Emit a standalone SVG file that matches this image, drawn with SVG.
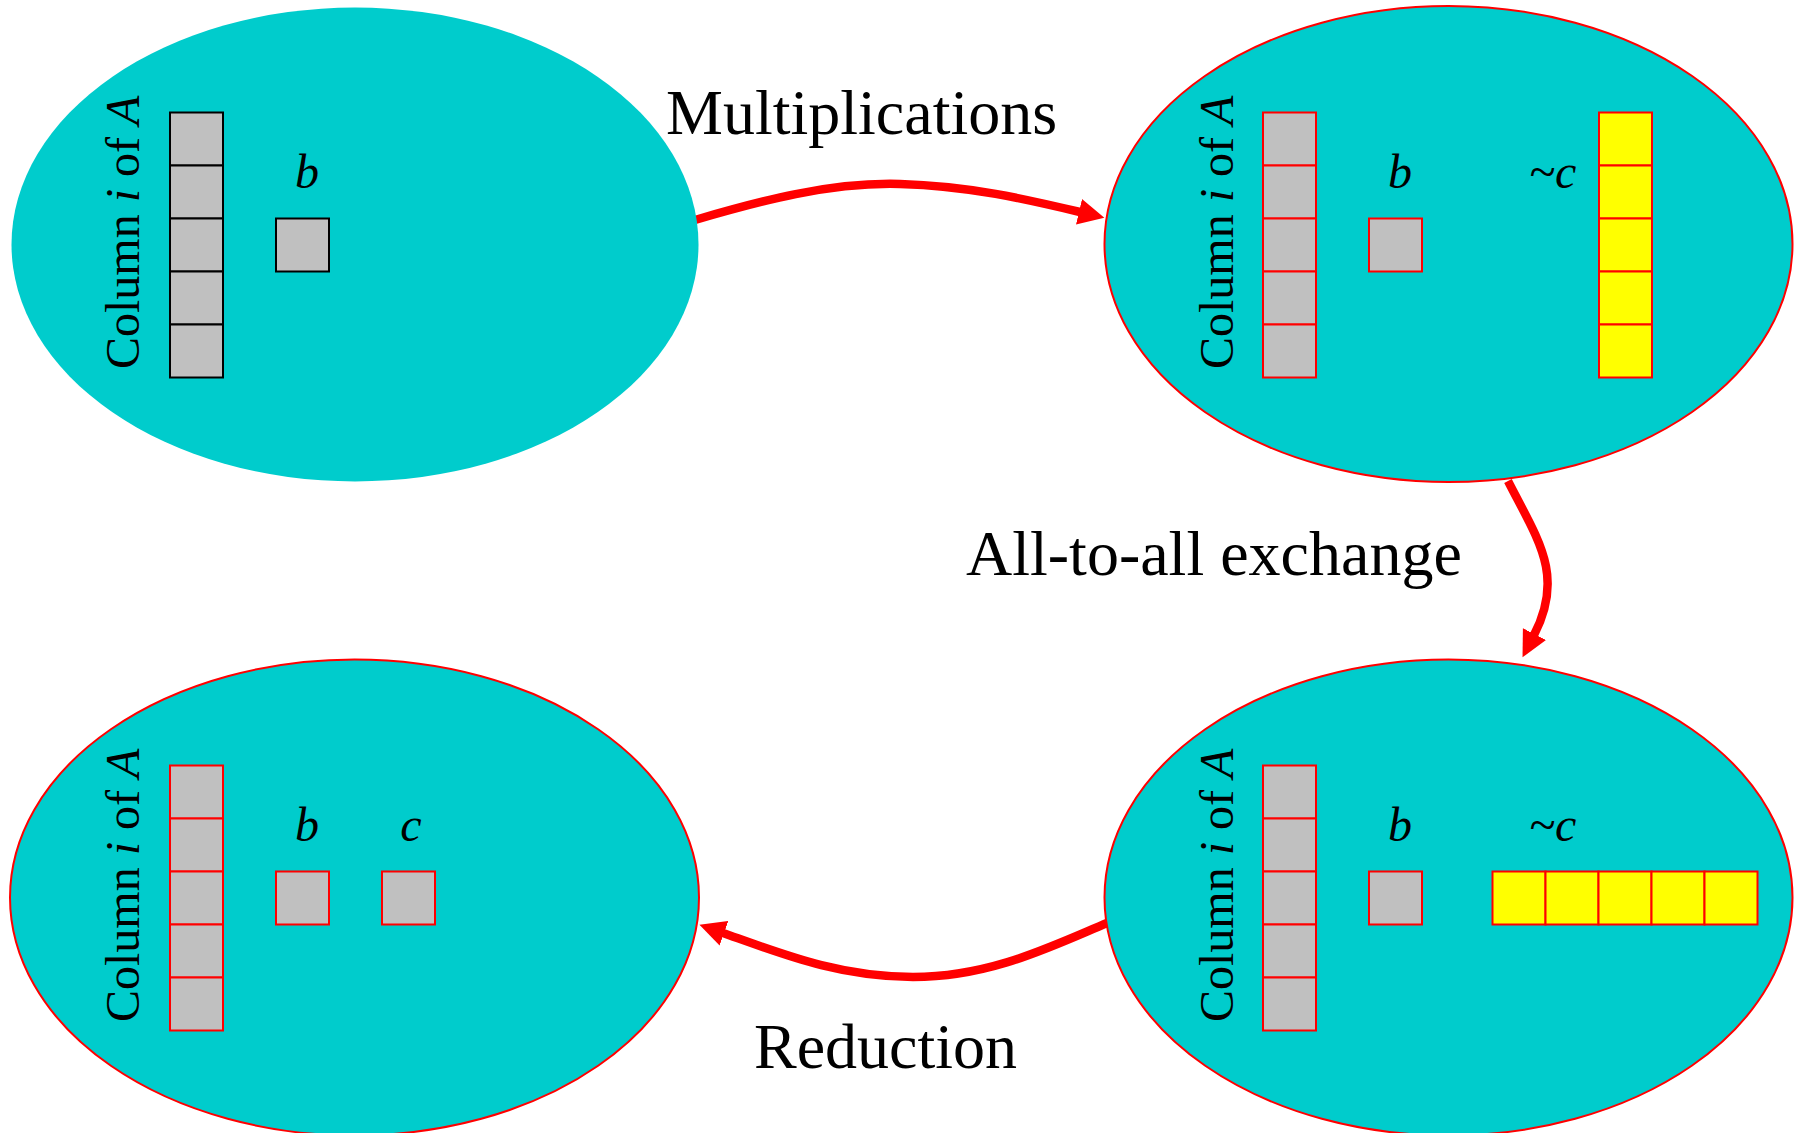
<svg xmlns="http://www.w3.org/2000/svg" width="1803" height="1133" viewBox="0 0 1803 1133">
  <style>
    .proc { fill: #00CCCC; }
    .proc.outlined { stroke: #FF0000; stroke-width: 2; }
    .cell { fill: #C0C0C0; stroke: #FF0000; stroke-width: 2; }
    .cell.dark { stroke: #000000; }
    .cell.hot { fill: #FFFF00; }
    .lbl { font-family: "Liberation Serif", "Times New Roman", serif; fill: #000000; }
    .side { font-size: 48px; }
    .var { font-size: 48px; font-style: italic; }
    .step { font-size: 64px; }
    .flow { fill: none; stroke: #FF0000; stroke-width: 8.5; }
  </style>
  <defs>
    <marker id="head" markerUnits="userSpaceOnUse" markerWidth="28" markerHeight="27" refX="1" refY="13" orient="auto" viewBox="0 0 28 26">
      <path d="M0,0 L26,13 L0,26 Z" fill="#FF0000"/>
    </marker>
  </defs>

  <!-- connectors between the processor states -->
  <g id="connectors">
    <path class="flow" d="M695,220 C760,201 830,182 900,184 C970,186 1025,199 1080,212" marker-end="url(#head)"/>
    <path class="flow" d="M1508,481 C1538,540 1565,575 1534,635" marker-end="url(#head)"/>
    <path class="flow" d="M1107,923 C1050,947 990,977 913,977 C840,977 785,955 723,933" marker-end="url(#head)"/>
    <text class="lbl step" x="666" y="134">Multiplications</text>
    <text class="lbl step" x="966" y="575">All-to-all exchange</text>
    <text class="lbl step" x="754" y="1068">Reduction</text>
  </g>

  <!-- initial state: column of A and b -->
  <g id="node-initial">
    <ellipse class="proc" cx="355" cy="244.5" rx="343.5" ry="237"/>
    <text class="lbl side" transform="translate(139,369) rotate(-90)">Column <tspan font-style="italic">i</tspan> of <tspan font-style="italic">A</tspan></text>
    <rect class="cell dark" x="170" y="112.5" width="53" height="53"/>
    <rect class="cell dark" x="170" y="165.5" width="53" height="53"/>
    <rect class="cell dark" x="170" y="218.5" width="53" height="53"/>
    <rect class="cell dark" x="170" y="271.5" width="53" height="53"/>
    <rect class="cell dark" x="170" y="324.5" width="53" height="53"/>
    <text class="lbl var" x="307" y="188" text-anchor="middle">b</text>
    <rect class="cell dark" x="276" y="218.5" width="53" height="53"/>
  </g>

  <!-- after multiplications: partial column ~c -->
  <g id="node-multiplied">
    <ellipse class="proc outlined" cx="1448.5" cy="244" rx="344" ry="238"/>
    <text class="lbl side" transform="translate(1233,369) rotate(-90)">Column <tspan font-style="italic">i</tspan> of <tspan font-style="italic">A</tspan></text>
    <rect class="cell" x="1263" y="112.5" width="53" height="53"/>
    <rect class="cell" x="1263" y="165.5" width="53" height="53"/>
    <rect class="cell" x="1263" y="218.5" width="53" height="53"/>
    <rect class="cell" x="1263" y="271.5" width="53" height="53"/>
    <rect class="cell" x="1263" y="324.5" width="53" height="53"/>
    <text class="lbl var" x="1400" y="188" text-anchor="middle">b</text>
    <rect class="cell" x="1369" y="218.5" width="53" height="53"/>
    <text class="lbl var" x="1529" y="188">~c</text>
    <rect class="cell hot" x="1599" y="112.5" width="53" height="53"/>
    <rect class="cell hot" x="1599" y="165.5" width="53" height="53"/>
    <rect class="cell hot" x="1599" y="218.5" width="53" height="53"/>
    <rect class="cell hot" x="1599" y="271.5" width="53" height="53"/>
    <rect class="cell hot" x="1599" y="324.5" width="53" height="53"/>
  </g>

  <!-- after all-to-all exchange: ~c laid out as a row -->
  <g id="node-exchanged">
    <ellipse class="proc outlined" cx="1448.5" cy="897.5" rx="344" ry="238"/>
    <text class="lbl side" transform="translate(1233,1022) rotate(-90)">Column <tspan font-style="italic">i</tspan> of <tspan font-style="italic">A</tspan></text>
    <rect class="cell" x="1263" y="765.5" width="53" height="53"/>
    <rect class="cell" x="1263" y="818.5" width="53" height="53"/>
    <rect class="cell" x="1263" y="871.5" width="53" height="53"/>
    <rect class="cell" x="1263" y="924.5" width="53" height="53"/>
    <rect class="cell" x="1263" y="977.5" width="53" height="53"/>
    <text class="lbl var" x="1400" y="841" text-anchor="middle">b</text>
    <rect class="cell" x="1369" y="871.5" width="53" height="53"/>
    <text class="lbl var" x="1529" y="841">~c</text>
    <rect class="cell hot" x="1492.5" y="871.5" width="53" height="53"/>
    <rect class="cell hot" x="1545.5" y="871.5" width="53" height="53"/>
    <rect class="cell hot" x="1598.5" y="871.5" width="53" height="53"/>
    <rect class="cell hot" x="1651.5" y="871.5" width="53" height="53"/>
    <rect class="cell hot" x="1704.5" y="871.5" width="53" height="53"/>
  </g>

  <!-- after reduction: final element c -->
  <g id="node-reduced">
    <ellipse class="proc outlined" cx="354.5" cy="897.5" rx="344.5" ry="238"/>
    <text class="lbl side" transform="translate(139,1022) rotate(-90)">Column <tspan font-style="italic">i</tspan> of <tspan font-style="italic">A</tspan></text>
    <rect class="cell" x="170" y="765.5" width="53" height="53"/>
    <rect class="cell" x="170" y="818.5" width="53" height="53"/>
    <rect class="cell" x="170" y="871.5" width="53" height="53"/>
    <rect class="cell" x="170" y="924.5" width="53" height="53"/>
    <rect class="cell" x="170" y="977.5" width="53" height="53"/>
    <text class="lbl var" x="307" y="841" text-anchor="middle">b</text>
    <rect class="cell" x="276" y="871.5" width="53" height="53"/>
    <text class="lbl var" x="411" y="841" text-anchor="middle">c</text>
    <rect class="cell" x="382" y="871.5" width="53" height="53"/>
  </g>
</svg>
